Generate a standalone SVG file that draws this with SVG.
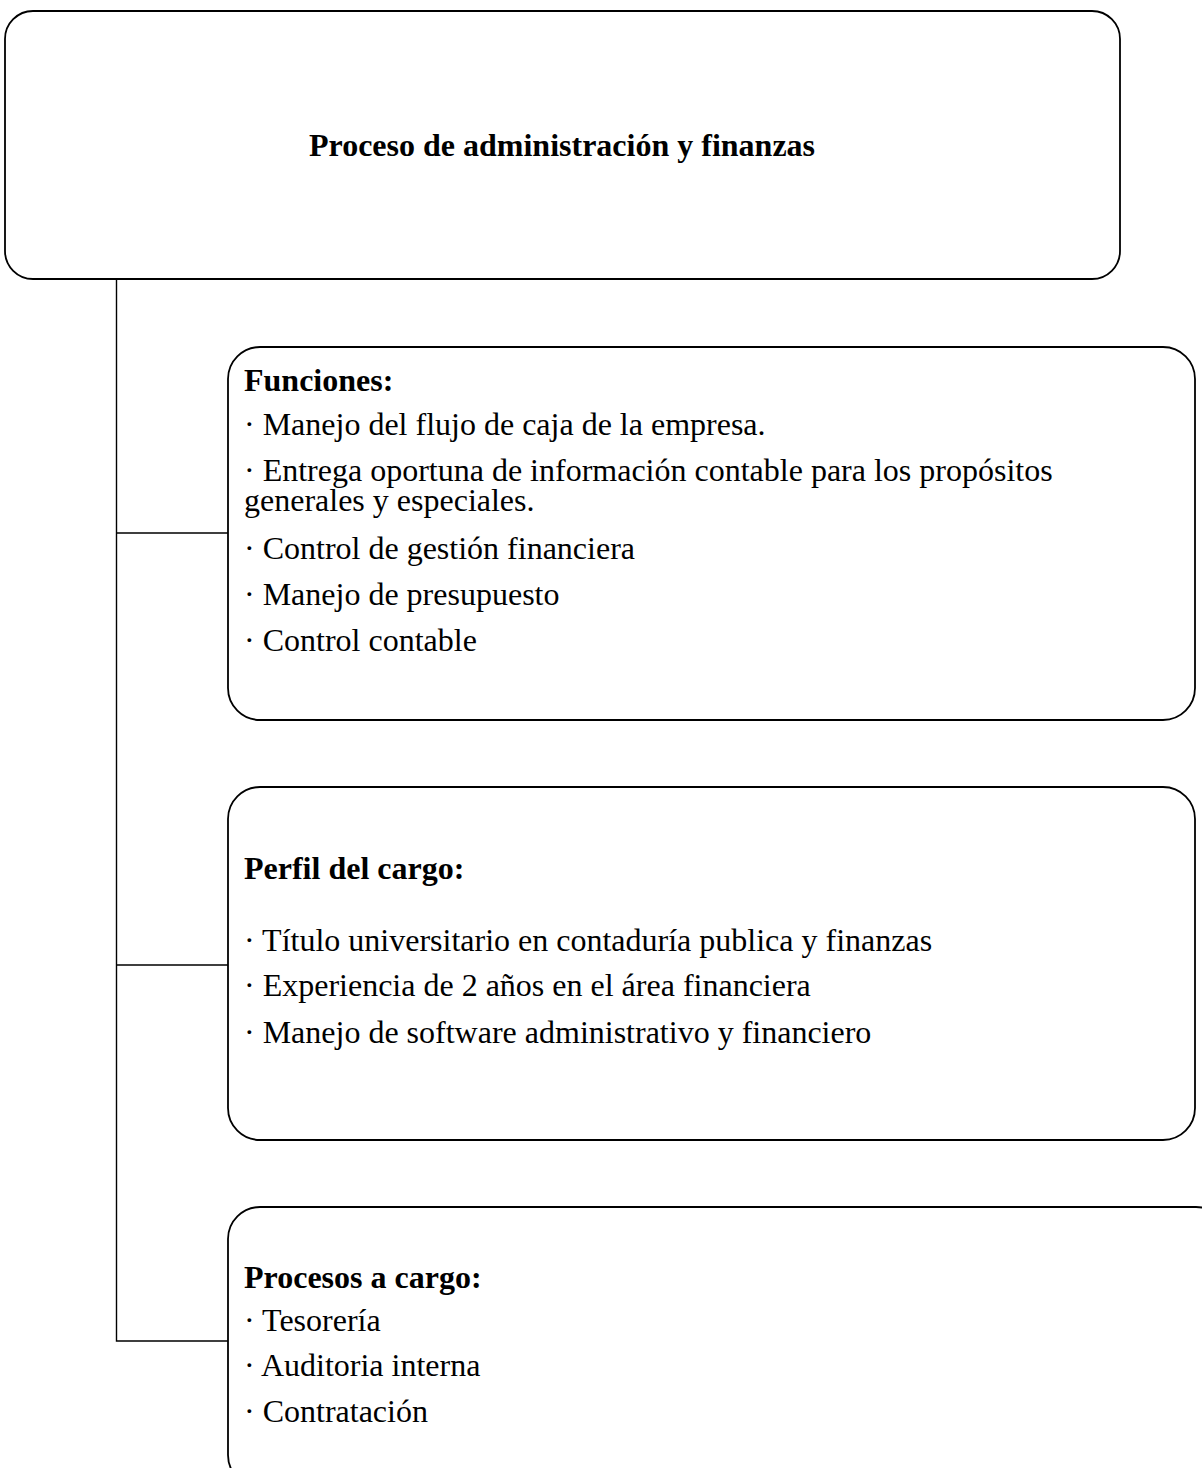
<svg xmlns="http://www.w3.org/2000/svg" width="1202" height="1468" viewBox="0 0 1202 1468">
<style>
.box{fill:#fff;stroke:#000;stroke-width:1.8}
.ln{stroke:#000;stroke-width:1.4;fill:none}
text{font-family:"Liberation Serif","Times New Roman",serif;fill:#000;font-size:32px}
.b{font-weight:bold}
</style>
<rect width="1202" height="1468" fill="#fff"/>
<g id="connectors">
<path class="ln" d="M116.5 279 V1341 H228 M116.5 533 H228 M116.5 965 H228"/>
</g>
<g id="root">
<rect class="box" x="5" y="11" width="1115" height="268" rx="28"/>
<text class="b" x="562" y="156" text-anchor="middle">Proceso de administración y finanzas</text>
</g>
<g id="funciones">
<rect class="box" x="228" y="347" width="967" height="373" rx="32"/>
<text class="b" x="244" y="391">Funciones:</text>
<text x="244" y="435">· Manejo del flujo de caja de la empresa.</text>
<text x="244" y="481">· Entrega oportuna de información contable para los propósitos</text>
<text x="244" y="511">generales y especiales.</text>
<text x="244" y="559">· Control de gestión financiera</text>
<text x="244" y="605">· Manejo de presupuesto</text>
<text x="244" y="651">· Control contable</text>
</g>
<g id="perfil">
<rect class="box" x="228" y="787" width="967" height="353" rx="32"/>
<text class="b" x="244" y="879">Perfil del cargo:</text>
<text x="244" y="951">· Título universitario en contaduría publica y finanzas</text>
<text x="244" y="996">· Experiencia de 2 años en el área financiera</text>
<text x="244" y="1043">· Manejo de software administrativo y financiero</text>
</g>
<g id="procesos">
<rect class="box" x="228" y="1207" width="1000" height="280" rx="32"/>
<text class="b" x="244" y="1288">Procesos a cargo:</text>
<text x="244" y="1331">· Tesorería</text>
<text x="244" y="1376">· Auditoria interna</text>
<text x="244" y="1422">· Contratación</text>
</g>
</svg>
